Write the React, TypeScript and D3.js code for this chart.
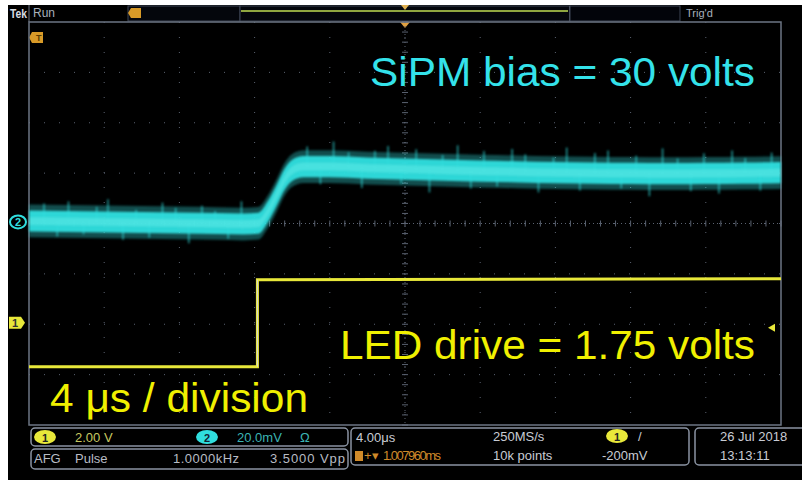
import React from 'react';
import * as d3 from 'd3';

// horizontal: 4 us / div, 10 divs, trigger at centre
const timeDomain = [-20, 20];
const timeDivs = [-20, -16, -12, -8, -4, 0, 4, 8, 12, 16, 20];
const voltDivs = [-4, -3, -2, -1, 0, 1, 2, 3, 4];

// channel 1 (LED drive), 2.00 V/div
const ch1Offset = -1.97;
const ch1Time = [-20, -7.85, -7.85, 20];
const ch1Volts = [-1.75, -1.75, 1.71, 1.75];
const trigLevel = -0.2;

// channel 2 (SiPM), 20.0 mV/div
const ch2Offset = 0.03;
const ch2Time = [-20, -18, -16, -14, -12, -10, -8.6, -7.8, -7.3, -6.8, -6.4, -6.0, -5.4, -4, -2, 0, 2, 4, 6, 8, 10, 12, 14, 16, 18, 20];
const ch2Mid = [0.4, 0.2, 0, -0.2, -0.4, -0.6, -0.8, -0.5, 4, 11, 17, 20.5, 22, 22, 21.4, 21, 20.6, 20.2, 19.9, 19.6, 19.4, 19.3, 19.2, 19.3, 19.4, 19.6];
const ch2SpikeT = [-19.2, -18.5, -17.9, -17.1, -16.4, -15.8, -15.0, -14.3, -13.6, -12.9, -12.2, -11.5, -10.8, -10.1, -9.4, -8.7, -5.2, -4.5, -3.8, -3.0, -2.3, -1.6, -0.9, -0.2, 0.6, 1.3, 2.0, 2.8, 3.5, 4.2, 4.9, 5.7, 6.4, 7.1, 7.9, 8.6, 9.3, 10.1, 10.8, 11.5, 12.3, 13.0, 13.7, 14.5, 15.2, 15.9, 16.7, 17.4, 18.1, 18.9, 19.5];
const ch2SpikeOff = [7, -6, 8, -5, 6, 9, -7, 5, -6, 8, 6, -8, 7, 5, -6, 9, 8, -7, 10, 6, -8, 7, 9, -6, 8, -9, 6, 10, -7, 8, -6, 9, 7, -8, 6, 10, -7, 8, 9, -6, 7, -9, 10, 6, -7, 8, -8, 9, 6, -7, 8];

const annotations = ['SiPM bias = 30 volts', 'LED drive = 1.75 volts', '4 μs / division'];

const x = d3.scaleLinear().domain(timeDomain).range([29, 781]);
const y = d3.scaleLinear().domain([-4, 4]).range([425, 22]);
const y1 = (v: number) => y(v / 2 + ch1Offset);
const y2 = (mv: number) => y(mv / 20 + ch2Offset);

const CYAN = '#30dede';
const YEL = '#e8e83a';
const GRID = '#5a6270';
const PANEL = '#8a93a2';

function Grid() {
  const minor = d3.range(-20, 20.01, 0.8);
  const minorV = d3.range(-4, 4.01, 0.2);
  return (
    <g>
      {timeDivs.slice(1, -1).map(t => (
        <line key={'v' + t} x1={x(t)} x2={x(t)} y1={y(4)} y2={y(-4)} stroke={GRID} strokeDasharray="1,14" strokeWidth={1} />
      ))}
      {voltDivs.slice(1, -1).map(v => (
        <line key={'h' + v} x1={x(-20)} x2={x(20)} y1={y(v)} y2={y(v)} stroke={GRID} strokeDasharray="1,14" strokeWidth={1} />
      ))}
      {minor.map(t => (
        <line key={'mx' + t} x1={x(t)} x2={x(t)} y1={y(0) - 3} y2={y(0) + 3} stroke={GRID} />
      ))}
      {minorV.map(v => (
        <line key={'my' + v} x1={x(0) - 3} x2={x(0) + 3} y1={y(v)} y2={y(v)} stroke={GRID} />
      ))}
      <line x1={x(-20)} x2={x(20)} y1={y(0)} y2={y(0)} stroke={GRID} strokeDasharray="1,3" />
      <line x1={x(0)} x2={x(0)} y1={y(4)} y2={y(-4)} stroke={GRID} strokeDasharray="1,3" />
      <rect x={x(-20)} y={y(4)} width={x(20) - x(-20)} height={y(-4) - y(4)} fill="none" stroke="#6c7584" strokeWidth={1.5} />
    </g>
  );
}

function Ch2Trace() {
  const pts = ch2Time.map((t, i) => ({ t, v: ch2Mid[i] }));
  const midAt = d3.scaleLinear().domain(ch2Time).range(ch2Mid);
  const band = (w: number) => d3.area<{ t: number; v: number }>()
    .curve(d3.curveMonotoneX)
    .x(d => x(d.t)).y0(d => y2(d.v - w)).y1(d => y2(d.v + w))(pts) || '';
  const spikes = ch2SpikeT.map((t, i) => ({ t, o: ch2SpikeOff[i] }));
  return (
    <g filter="url(#soft)">
      <path d={band(6.5)} fill={CYAN} opacity={0.35} />
      <path d={band(4.2)} fill={CYAN} opacity={0.95} />
      {spikes.map((s, i) => (
        <line key={i} x1={x(s.t)} x2={x(s.t)} y1={y2(midAt(s.t))} y2={y2(midAt(s.t) + s.o)} stroke={CYAN} strokeWidth={1.4} opacity={0.75} />
      ))}
      <path d={band(1.5)} fill="#5ae8e4" opacity={0.6} />
    </g>
  );
}

function Ch1Trace() {
  const pts = ch1Time.map((t, i) => ({ t, v: ch1Volts[i] }));
  const line = d3.line<{ t: number; v: number }>().x(d => x(d.t)).y(d => y1(d.v))(pts) || '';
  return (
    <g>
      <path d={line} fill="none" stroke={YEL} strokeWidth={3} />
      <line x1={x(-7.85)} x2={x(-7.85)} y1={y1(-1.75)} y2={y1(1.71)} stroke="#d8d8d8" strokeWidth={1} />
    </g>
  );
}

function Panel() {
  const t: React.CSSProperties = { fontFamily: 'Liberation Sans, Arial, sans-serif', fontSize: 13 };
  return (
    <g style={t}>
      <rect x={31} y={428} width={317} height={18} rx={4} fill="#000" stroke={PANEL} strokeWidth={1.5} />
      <rect x={31} y={449} width={317} height={20} rx={4} fill="#000" stroke={PANEL} strokeWidth={1.5} />
      <rect x={351} y={428} width={338} height={37} rx={4} fill="#000" stroke={PANEL} strokeWidth={1.5} />
      <rect x={695} y={428} width={112} height={37} rx={4} fill="#000" stroke={PANEL} strokeWidth={1.5} />

      <ellipse cx={45} cy={437} rx={11} ry={7} fill={YEL} />
      <text x={45} y={441.5} textAnchor="middle" fill="#222" fontSize={11} fontWeight="bold">1</text>
      <text x={75} y={442} fill="#c8c860">2.00 V</text>
      <ellipse cx={207} cy={437} rx={11} ry={7} fill={CYAN} />
      <text x={207} y={441.5} textAnchor="middle" fill="#123" fontSize={11} fontWeight="bold">2</text>
      <text x={237} y={442} fill="#3bb4b4">20.0mV</text>
      <text x={300} y={442} fill="#3bb4b4">Ω</text>

      <text x={34} y={463} fill="#b8bcc4">AFG</text>
      <text x={75} y={463} fill="#b8bcc4">Pulse</text>
      <text x={173} y={463} fill="#b8bcc4" textLength={66}>1.0000kHz</text>
      <text x={270} y={463} fill="#b8bcc4" textLength={75}>3.5000 Vpp</text>

      <text x={356} y={442} fill="#c8ccd4">4.00μs</text>
      <rect x={355} y={451} width={8} height={10} fill="#d08a2a" />
      <text x={364} y={460} fill="#d08a2a">+▾</text>
      <text x={383} y={460} fill="#d08a2a" textLength={58}>1.007960ms</text>
      <text x={493} y={441} fill="#c8ccd4">250MS/s</text>
      <text x={493} y={460} fill="#c8ccd4">10k points</text>
      <ellipse cx={617} cy={436} rx={11} ry={7} fill={YEL} />
      <text x={617} y={440.5} textAnchor="middle" fill="#222" fontSize={11} fontWeight="bold">1</text>
      <text x={638} y={441} fill="#c8ccd4">/</text>
      <text x={602} y={460} fill="#c8ccd4">-200mV</text>

      <text x={720} y={441} fill="#c8ccd4">26 Jul  2018</text>
      <text x={720} y={460} fill="#c8ccd4">13:13:11</text>
    </g>
  );
}

function TopBar() {
  return (
    <g style={{ fontFamily: 'Liberation Sans, Arial, sans-serif', fontSize: 12 }}>
      <text x={10} y={18} fill="#d8dce4" fontWeight="bold" fontSize={13} textLength={17} lengthAdjust="spacingAndGlyphs">Tek</text>
      <text x={33} y={17} fill="#a8b0bc">Run</text>
      <line x1={29} x2={29} y1={5} y2={22} stroke="#6c7584" />
      <rect x={128} y={6} width={112} height={15} fill="#04060c" stroke="#3c4454" />
      <rect x={240} y={6} width={330} height={15} fill="#04060c" stroke="#3c4454" />
      <line x1={241} x2={568} y1={11} y2={11} stroke="#8fa640" strokeWidth={2} />
      <line x1={570} x2={570} y1={6} y2={21} stroke="#7a8290" />
      <rect x={570} y={6} width={110} height={15} fill="#02040a" stroke="#3c4454" />
      <text x={686} y={17} fill="#a8b0bc" fontSize={11}>Trig'd</text>
      <path d="M131,8 h10 v10 h-10 l-3,-5 z" fill="#d89a28" />
      <path d={`M${x(0) - 4},5 h8 l-4,5 z`} fill="#e0b050" />
      <path d={`M${x(0) - 5},22 h10 l-5,6 z`} fill="#e0a040" />
      <path d="M32,32 h11 v11 h-11 l-3,-5.5 z" fill="#d89a28" />
      <text x={36} y={41} fill="#5a3a00" fontSize={9} fontWeight="bold">T</text>
    </g>
  );
}

export default function App() {
  return (
    <svg width={802} height={480} style={{ position: 'absolute', left: 0, top: 0 }}>
      <defs>
        <filter id="soft" x="-5%" y="-20%" width="110%" height="140%">
          <feGaussianBlur stdDeviation="1" />
        </filter>
      </defs>
      <rect x={0} y={0} width={802} height={480} fill="#fff" />
      <rect x={8} y={5} width={794} height={475} fill="#000" />
      <TopBar />
      <Grid />
      <Ch1Trace />
      <Ch2Trace />

      {/* channel markers */}
      <ellipse cx={18} cy={y(ch2Offset)} rx={8} ry={6.5} fill="#000" stroke={CYAN} strokeWidth={2} />
      <text x={18} y={y(ch2Offset) + 4} textAnchor="middle" fill={CYAN} fontSize={11} fontWeight="bold" fontFamily="Liberation Sans, Arial">2</text>
      <path d={`M9,${y(ch1Offset) - 6} h12 l4,6 l-4,6 h-12 z`} fill={YEL} />
      <text x={15} y={y(ch1Offset) + 4} textAnchor="middle" fill="#333" fontSize={11} fontWeight="bold" fontFamily="Liberation Sans, Arial">1</text>
      <path d={`M768,${y1(trigLevel)} l7,-4 v8 z`} fill={YEL} />

      <g style={{ fontFamily: 'Liberation Sans, Arial, sans-serif', fontSize: 41 }}>
        <text x={370} y={86} fill="#34e2ea" textLength={385} lengthAdjust="spacingAndGlyphs">{annotations[0]}</text>
        <text x={340} y={359} fill="#f0f000" textLength={415} lengthAdjust="spacingAndGlyphs">{annotations[1]}</text>
        <text x={50} y={412} fill="#f0f000" textLength={258} lengthAdjust="spacingAndGlyphs">{annotations[2]}</text>
      </g>
      <Panel />
    </svg>
  );
}
